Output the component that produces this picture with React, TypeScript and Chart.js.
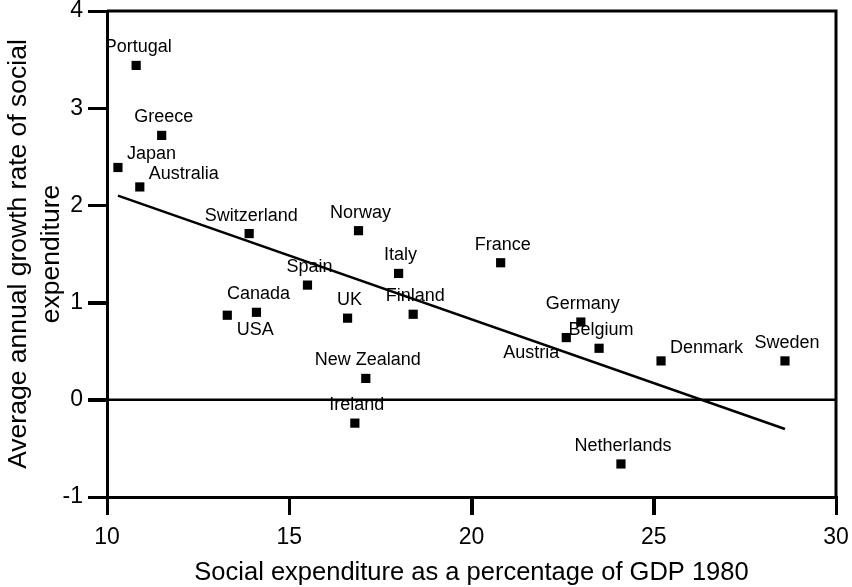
import { useEffect, useRef } from "react";
import { Chart, registerables } from "chart.js";

Chart.register(...registerables);

// OECD countries: social expenditure share in 1980 vs. its later annual growth
const countries = [
  "Portugal", "Greece", "Japan", "Australia", "Switzerland", "Norway", "Italy",
  "Spain", "Canada", "USA", "UK", "Finland", "New Zealand", "Ireland",
  "France", "Germany", "Austria", "Belgium", "Denmark", "Sweden", "Netherlands",
];
const socialExpenditure1980 = [
  10.8, 11.5, 10.3, 10.9, 13.9, 16.9, 18.0,
  15.5, 14.1, 13.3, 16.6, 18.4, 17.1, 16.8,
  20.8, 23.0, 22.6, 23.5, 25.2, 28.6, 24.1,
];
const annualGrowthRate = [
  3.44, 2.72, 2.39, 2.19, 1.71, 1.74, 1.30,
  1.18, 0.90, 0.87, 0.84, 0.88, 0.22, -0.24,
  1.41, 0.80, 0.64, 0.53, 0.40, 0.40, -0.66,
];

// fitted regression line end points
const trendX = [10.3, 28.6];
const trendY = [2.1, -0.3];

// reference line at zero growth
const zeroX = [10, 30];
const zeroY = [0, 0];

const xTicks = [10, 15, 20, 25, 30];
const yTicks = [-1, 0, 1, 2, 3, 4];

const FONT = '"Liberation Sans", Arial, Helvetica, sans-serif';
const TICK_LEN = 18;

// which side of its marker a country name is written on (default: above)
const labelSide: Record<string, string> = {
  Japan: "right",
  Australia: "right",
  Denmark: "right",
  USA: "belowRight",
  Austria: "belowLeft",
};

const countryLabels = {
  id: "countryLabels",
  beforeDatasetsDraw(chart: any) {
    const { ctx } = chart;
    const meta = chart.getDatasetMeta(2);
    ctx.save();
    ctx.font = `18px ${FONT}`;
    ctx.fillStyle = "#000";
    ctx.textBaseline = "middle";
    meta.data.forEach((pt: any, i: number) => {
      const name = countries[i];
      const side = labelSide[name] ?? "above";
      let x = pt.x;
      let y = pt.y;
      if (side === "above") {
        ctx.textAlign = "center";
        x += 2;
        y -= 18;
      } else if (side === "right") {
        ctx.textAlign = "left";
        x += 9;
        y -= 13;
      } else if (side === "belowRight") {
        ctx.textAlign = "center";
        x += 28;
        y += 15;
      } else {
        ctx.textAlign = "right";
        x -= 7;
        y += 15;
      }
      ctx.fillText(name, x, y);
    });
    ctx.restore();
  },
};

// closes the plot box along the top and right edges and draws outward tick marks
const plotFrame = {
  id: "plotFrame",
  afterDatasetsDraw(chart: any) {
    const { ctx, chartArea, scales } = chart;
    const { left, right, top, bottom } = chartArea;
    ctx.save();
    ctx.strokeStyle = "#000";
    ctx.lineWidth = 3;
    ctx.lineCap = "butt";
    ctx.beginPath();
    ctx.moveTo(left, top);
    ctx.lineTo(right, top);
    ctx.lineTo(right, bottom);
    xTicks.forEach((v) => {
      const px = Math.round(scales.x.getPixelForValue(v)) + 0.5;
      ctx.moveTo(px, bottom);
      ctx.lineTo(px, bottom + TICK_LEN);
    });
    yTicks.forEach((v) => {
      const py = Math.round(scales.y.getPixelForValue(v)) + 0.5;
      ctx.moveTo(left, py);
      ctx.lineTo(left - TICK_LEN - 1, py);
    });
    ctx.stroke();
    ctx.restore();
  },
};

export default function App() {
  const canvasRef = useRef<HTMLCanvasElement | null>(null);

  useEffect(() => {
    if (!canvasRef.current) return;
    const chart = new Chart(canvasRef.current, {
      type: "scatter",
      data: {
        datasets: [
          {
            type: "line",
            data: zeroX.map((x, i) => ({ x, y: zeroY[i] })),
            borderColor: "#000",
            borderWidth: 2.5,
            pointRadius: 0,
            order: 2,
          },
          {
            type: "line",
            data: trendX.map((x, i) => ({ x, y: trendY[i] })),
            borderColor: "#000",
            borderWidth: 2.5,
            pointRadius: 0,
            order: 1,
          },
          {
            type: "scatter",
            data: socialExpenditure1980.map((x, i) => ({ x, y: annualGrowthRate[i] })),
            pointStyle: "rect",
            pointRadius: 6.5,
            backgroundColor: "#000",
            borderWidth: 0,
            order: 0,
          },
        ],
      },
      options: {
        responsive: false,
        animation: false,
        events: [],
        layout: { padding: { left: 0, top: 11, right: 16, bottom: 0 } },
        plugins: {
          legend: { display: false },
          tooltip: { enabled: false },
        },
        scales: {
          x: {
            type: "linear",
            min: 10,
            max: 30,
            afterBuildTicks: (s: any) => {
              s.ticks = xTicks.map((v) => ({ value: v }));
            },
            afterFit: (s: any) => {
              s.height = 90;
              s.paddingLeft = 0;
              s.paddingRight = 0;
            },
            ticks: {
              color: "#000",
              font: { family: FONT, size: 23 },
              padding: 9,
              maxRotation: 0,
            },
            grid: {
              drawOnChartArea: false,
              drawTicks: true,
              tickLength: TICK_LEN,
              lineWidth: 3,
              color: "#000",
            },
            border: { display: true, color: "#000", width: 3 },
            title: {
              display: true,
              text: "Social expenditure as a percentage of GDP 1980",
              color: "#000",
              font: { family: FONT, size: 25.5, lineHeight: 1.1 },
              padding: { top: 0, bottom: 0 },
            },
          },
          y: {
            type: "linear",
            min: -1,
            max: 4,
            afterBuildTicks: (s: any) => {
              s.ticks = yTicks.map((v) => ({ value: v }));
            },
            afterFit: (s: any) => {
              s.width = 107;
              s.paddingTop = 0;
              s.paddingBottom = 0;
            },
            ticks: {
              color: "#000",
              font: { family: FONT, size: 23 },
              padding: 5,
            },
            grid: {
              drawOnChartArea: false,
              drawTicks: true,
              tickLength: TICK_LEN + 1,
              lineWidth: 3,
              color: "#000",
            },
            border: { display: true, color: "#000", width: 3 },
            title: {
              display: true,
              text: ["Average annual growth rate of social", "expenditure"],
              color: "#000",
              font: { family: FONT, size: 26.5, lineHeight: 1.25 },
              padding: { top: 2, bottom: 0 },
            },
          },
        },
      },
      plugins: [countryLabels, plotFrame],
    } as any);
    return () => chart.destroy();
  }, []);

  return (
    <div style={{ position: "absolute", left: 0, top: 0, width: 852, height: 587, background: "#fff" }}>
      <canvas ref={canvasRef} width={852} height={587} style={{ display: "block" }} />
    </div>
  );
}
